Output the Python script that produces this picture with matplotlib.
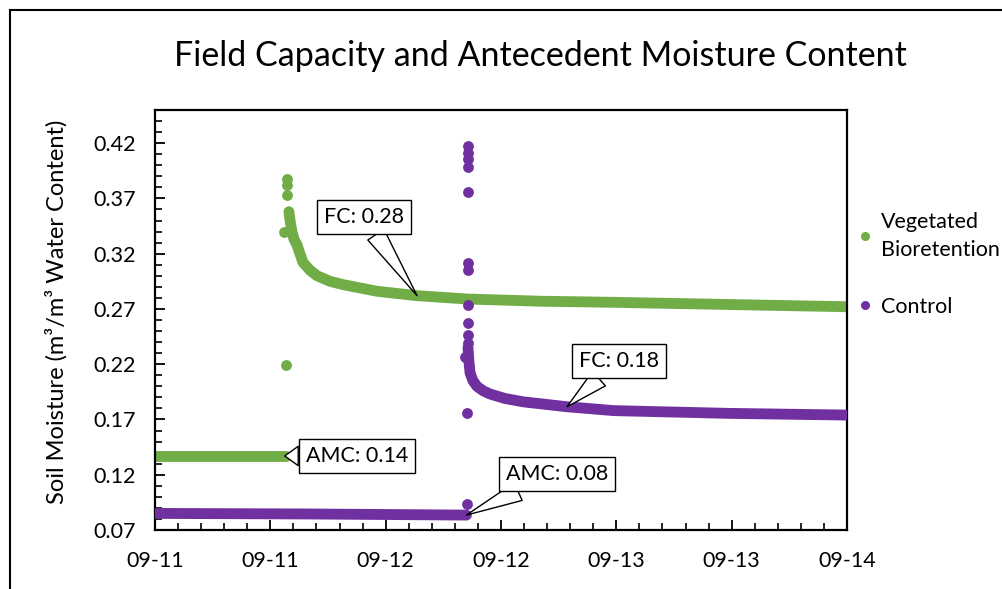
import numpy as np
import matplotlib
matplotlib.use("Agg")
import matplotlib.pyplot as plt
import matplotlib.dates as mdates
from matplotlib.ticker import MultipleLocator, FormatStrFormatter, FixedLocator
from matplotlib.lines import Line2D

plt.rcParams['font.family'] = ['Lato', 'DejaVu Sans']

# ---------------- data (hours after 09-11 00:00, soil moisture m3/m3) ----------------
start = np.datetime64('2019-09-11T00:00')

veg_flat_h = [0.0, 6.0, 13.6]
veg_flat_v = [0.137, 0.137, 0.137]
veg_curve_h = [13.94, 14.05, 14.25, 14.46, 14.77, 15.09, 15.40, 16.13, 16.86, 18.21,
               19.56, 21.33, 23.10, 27.26, 32.46, 40.06, 47.76, 59.83, 72.0]
veg_curve_v = [0.358, 0.350, 0.340, 0.333, 0.328, 0.320, 0.312, 0.305, 0.300, 0.295,
               0.292, 0.289, 0.286, 0.282, 0.279, 0.277, 0.276, 0.274, 0.272]
veg_spike_h = [13.75, 13.75, 13.75, 13.45, 13.6]
veg_spike_v = [0.388, 0.382, 0.373, 0.340, 0.219]

ctl_flat_h = [0.0, 16.0, 32.4]
ctl_flat_v = [0.085, 0.0845, 0.0835]
ctl_curve_h = [32.57, 32.67, 32.78, 33.09, 33.50, 34.13, 34.86, 36.42, 38.29, 42.87,
               47.76, 59.83, 72.0]
ctl_curve_v = [0.235, 0.222, 0.212, 0.205, 0.200, 0.196, 0.193, 0.189, 0.186, 0.1815,
               0.178, 0.1755, 0.174]
ctl_spike_h = [32.57, 32.57, 32.57, 32.57, 32.57, 32.57, 32.57, 32.57, 32.57, 32.57,
               32.57, 32.25, 32.46, 32.46]
ctl_spike_v = [0.4176, 0.411, 0.406, 0.3986, 0.376, 0.3117, 0.3053, 0.2737, 0.2574,
               0.2465, 0.2393, 0.2266, 0.1759, 0.0935]

series_names = ["Vegetated\nBioretention", "Control"]
colors = ["#70AD47", "#7030A0"]

# annotations: label, hour, value
ann_labels = ["FC: 0.28", "AMC: 0.14", "AMC: 0.08", "FC: 0.18"]
ann_h = [27.26, 13.5, 32.4, 42.87]
ann_v = [0.282, 0.137, 0.0835, 0.1815]

yticks = [0.07, 0.12, 0.17, 0.22, 0.27, 0.32, 0.37, 0.42]


def to_time(hours):
    return start + (np.asarray(hours) * 60).round().astype('timedelta64[m]')


W, H = 1002, 589
fig = plt.figure(figsize=(W / 100, H / 100), dpi=100)
ax = fig.add_axes([155 / W, 1 - 530 / H, 692 / W, 420 / H])

ms = 7.8  # marker diameter in points

# Vegetated
c = colors[0]
for hh, vv in [(veg_flat_h, veg_flat_v), (veg_curve_h, veg_curve_v)]:
    ax.plot(to_time(hh), vv, color=c, lw=ms, solid_capstyle='round',
            solid_joinstyle='round', zorder=2)
ax.plot(to_time(veg_spike_h), veg_spike_v, ls='none', marker='o', ms=ms, color=c,
        mec='none', zorder=2)

# Control
c = colors[1]
for hh, vv in [(ctl_flat_h, ctl_flat_v), (ctl_curve_h, ctl_curve_v)]:
    ax.plot(to_time(hh), vv, color=c, lw=ms, solid_capstyle='round',
            solid_joinstyle='round', zorder=3)
ax.plot(to_time(ctl_spike_h), ctl_spike_v, ls='none', marker='o', ms=ms, color=c,
        mec='none', zorder=3)

# axes formatting
x0 = mdates.date2num(start)
x1 = mdates.date2num(start + np.timedelta64(72, 'h'))
ax.set_xlim(x0, x1)
ax.set_ylim(0.07, 0.45)
ax.xaxis.set_major_locator(MultipleLocator(0.5))
ax.xaxis.set_minor_locator(FixedLocator(np.arange(x0, x1 + 1e-6, 0.1)))
ax.xaxis.set_major_formatter(mdates.DateFormatter('%m-%d'))
ax.set_yticks(yticks)
ax.yaxis.set_minor_locator(FixedLocator(np.arange(0.07, 0.4501, 0.01)))
ax.yaxis.set_major_formatter(FormatStrFormatter('%.2f'))

for s in ax.spines.values():
    s.set_linewidth(1.6)
    s.set_color('black')
ax.tick_params(which='both', direction='in', top=False, right=False, width=1.3,
               colors='black', labelsize=15.5)
ax.tick_params(which='major', length=7)
ax.tick_params(which='minor', length=5, width=1.2)
ax.tick_params(axis='y', which='both', pad=14)
ax.tick_params(axis='x', which='both', pad=15)

ax.set_ylabel("Soil Moisture (m³/m³ Water Content)", fontsize=17)
ax.yaxis.set_label_coords((68 - 155) / 692, 0.52)

# annotations (callouts)
box_centers = [(364, 217), (357, 456), (557, 474), (619, 361)]
for lab, hh, vv, (bx, by) in zip(ann_labels, ann_h, ann_v, box_centers):
    ax.annotate(lab, xy=(mdates.date2num(to_time([hh])[0]), vv),
                xytext=(bx, H - by), textcoords='figure pixels',
                ha='center', va='center', fontsize=15.5, zorder=5,
                bbox=dict(boxstyle='square,pad=0.33', fc='white', ec='black', lw=1),
                arrowprops=dict(arrowstyle='wedge,tail_width=0.9,shrink_factor=0.5',
                                fc='white', ec='black', lw=1, shrinkA=0, shrinkB=0))

# legend
handles = [Line2D([], [], ls='none', marker='o', ms=6.5, color=col, mec='none')
           for col in colors]
leg = ax.legend(handles, series_names, loc='upper left',
                bbox_to_anchor=(859 / W, 1 - 212 / H), bbox_transform=fig.transFigure,
                frameon=False, fontsize=15.5, labelspacing=1.7, borderpad=0,
                borderaxespad=0, handlelength=0.6, handletextpad=0.4)
for t in leg.get_texts():
    t.set_linespacing(1.5)

# title
fig.text(540 / W, 1 - 56 / H, "Field Capacity and Antecedent Moisture Content",
         ha='center', va='center', fontsize=24.5)

# chart-area border (left and top edges visible)
fig.add_artist(Line2D([10 / W, 10 / W], [0, 1 - 10 / H], transform=fig.transFigure,
                      color='black', lw=1.5))
fig.add_artist(Line2D([10 / W, 1], [1 - 10 / H, 1 - 10 / H], transform=fig.transFigure,
                      color='black', lw=1.5))

fig.savefig("out.png", dpi=100)
